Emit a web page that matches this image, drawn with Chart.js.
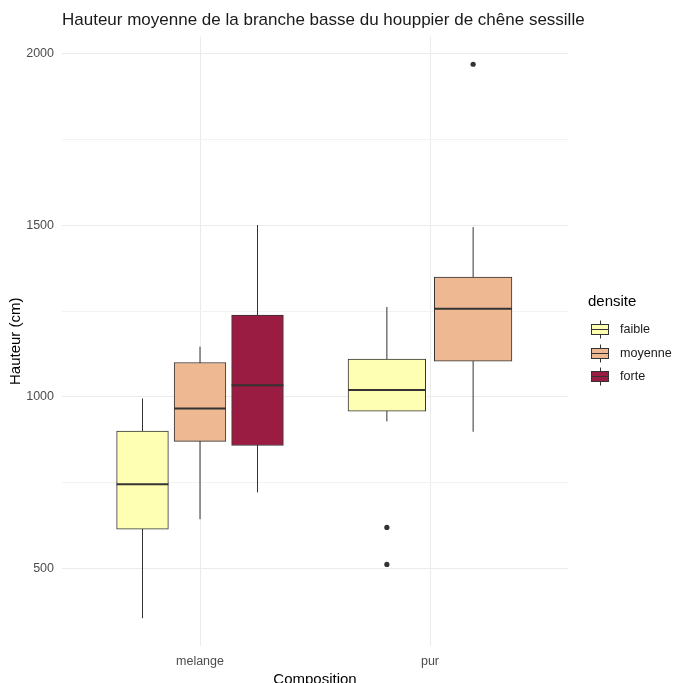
<!DOCTYPE html>
<html lang="fr">
<head>
<meta charset="utf-8">
<title>Hauteur moyenne de la branche basse du houppier de chêne sessille</title>
<script src="https://cdn.jsdelivr.net/npm/chart.js@4.4.1/dist/chart.umd.min.js"></script>
<style>
  html, body { margin: 0; padding: 0; background: #ffffff; overflow: hidden; }
  #wrap { position: relative; width: 673px; height: 690px; }
</style>
</head>
<body>
<div id="wrap"><canvas id="chart"></canvas></div>
<script>
// Categories and groups
const categories = ['melange', 'pur'];
const densites = ['faible', 'moyenne', 'forte'];
const densiteColors = ['#FFFFB4', '#EEB893', '#9A1C42'];

const chartTitle = 'Hauteur moyenne de la branche basse du houppier de chêne sessille';

// One entry per box (composition x densite), five-number summaries in cm
const boxComposition = ['melange', 'melange', 'melange', 'pur', 'pur'];
const boxDensite = ['faible', 'moyenne', 'forte', 'faible', 'moyenne'];
const whiskerLow = [354, 643, 721, 928, 898];
const q1 = [614, 870, 858, 958, 1104];
const median = [745, 966, 1034, 1020, 1257];
const q3 = [900, 1100, 1238, 1110, 1349];
const whiskerHigh = [995, 1146, 1501, 1262, 1495];

// Outliers: index of the box they belong to, and value
const outlierBox = [3, 3, 4];
const outlierValue = [619, 511, 1970];

// Y axis ticks (labelled every 500, minor grid every 250)
const yTicks = [500, 750, 1000, 1250, 1500, 1750, 2000];

const FONT = '"Liberation Sans", Arial, Helvetica, sans-serif';
Chart.defaults.font.family = FONT;

// Dodge boxes within each composition (total width 0.75, 10% padding)
const DODGE_WIDTH = 0.75, DODGE_PADDING = 0.1;
const boxCenter = [], boxWidth = [];
categories.forEach((cat, ci) => {
  const members = boxComposition.map((c, i) => (c === cat ? i : -1)).filter(i => i >= 0);
  const slot = DODGE_WIDTH / members.length;
  members.forEach((bi, k) => {
    boxCenter[bi] = ci + 1 - DODGE_WIDTH / 2 + slot * (k + 0.5);
    boxWidth[bi] = slot * (1 - DODGE_PADDING);
  });
});

function pxWidth(chart, w) {
  const s = chart.scales.x;
  return Math.abs(s.getPixelForValue(1 + w) - s.getPixelForValue(1));
}

const INK = '#333333';
const datasets = [];
boxComposition.forEach((comp, i) => {
  const color = densiteColors[densites.indexOf(boxDensite[i])];
  const c = boxCenter[i], w = boxWidth[i];
  // whisker
  datasets.push({
    type: 'line', order: 3,
    data: [{ x: c, y: whiskerLow[i] }, { x: c, y: whiskerHigh[i] }],
    borderColor: INK, borderWidth: 1, pointRadius: 0, fill: false
  });
  // box from Q1 to Q3
  datasets.push({
    type: 'bar', order: 2, grouped: false,
    data: [{ x: c, y: [q1[i], q3[i]] }],
    backgroundColor: color, borderColor: INK, borderWidth: 1, borderSkipped: false,
    barThickness: ctx => pxWidth(ctx.chart, w)
  });
  // median
  datasets.push({
    type: 'line', order: 1,
    data: [{ x: c - w / 2, y: median[i] }, { x: c + w / 2, y: median[i] }],
    borderColor: INK, borderWidth: 2, pointRadius: 0, fill: false
  });
});
datasets.push({
  type: 'scatter', order: 0,
  data: outlierValue.map((v, k) => ({ x: boxCenter[outlierBox[k]], y: v })),
  pointRadius: 2.6, backgroundColor: INK, borderWidth: 0
});

// Title aligned with the plot panel, and legend with boxplot glyphs on the right
const panelDecor = {
  id: 'panelDecor',
  afterDraw(chart) {
    const { ctx, chartArea } = chart;
    ctx.save();
    ctx.fillStyle = '#1a1a1a';
    ctx.font = '17px ' + FONT;
    ctx.textAlign = 'left';
    ctx.textBaseline = 'alphabetic';
    ctx.fillText(chartTitle, chartArea.left, 25);

    const left = chartArea.right + 20;
    const mid = (chartArea.top + chartArea.bottom) / 2;
    ctx.fillStyle = '#000000';
    ctx.font = '15px ' + FONT;
    ctx.fillText('densite', left, mid - 35);
    densites.forEach((d, i) => {
      const cy = Math.round(mid - 12 + i * 23.3) + 0.5;
      const kx = left + 3.5, kw = 17, kh = 10;
      const cx = Math.round(kx + kw / 2) + 0.5;
      ctx.strokeStyle = INK;
      ctx.lineWidth = 1;
      ctx.beginPath();
      ctx.moveTo(cx, cy - 9); ctx.lineTo(cx, cy + 9);
      ctx.stroke();
      ctx.fillStyle = densiteColors[i];
      ctx.fillRect(kx, cy - kh / 2, kw, kh);
      ctx.strokeRect(kx, cy - kh / 2, kw, kh);
      ctx.beginPath();
      ctx.moveTo(kx, cy); ctx.lineTo(kx + kw, cy);
      ctx.stroke();
      ctx.fillStyle = '#1a1a1a';
      ctx.font = '12.6px ' + FONT;
      ctx.textBaseline = 'middle';
      ctx.fillText(d, left + 32, cy);
    });
    ctx.restore();
  }
};

new Chart(document.getElementById('chart'), {
  type: 'bar',
  data: { datasets },
  options: {
    responsive: true,
    maintainAspectRatio: false,
    animation: false,
    events: [],
    layout: { padding: { left: 0, right: 105, top: 36.5, bottom: 0 } },
    plugins: {
      legend: { display: false },
      tooltip: { enabled: false },
      title: { display: false }
    },
    scales: {
      x: {
        type: 'linear',
        min: 0.4, max: 2.6,
        offset: false,
        grid: { color: '#ebebeb', drawTicks: false, offset: false },
        border: { display: false },
        afterBuildTicks: s => { s.ticks = categories.map((c, i) => ({ value: i + 1 })); },
        afterFit: s => { s.height = 44; },
        ticks: {
          autoSkip: false, padding: 8, color: '#4d4d4d', font: { size: 12.5 },
          callback: v => categories[Math.round(v) - 1] ?? ''
        },
        title: {
          display: true, text: 'Composition', color: '#000000',
          font: { size: 15 }, padding: { top: 0, bottom: 1.5 }
        }
      },
      y: {
        type: 'linear',
        min: 273, max: 2051,
        grid: {
          drawTicks: false,
          color: ctx => (ctx.tick && ctx.tick.value % 500 === 0 ? '#ebebeb' : '#f2f2f2')
        },
        border: { display: false },
        afterBuildTicks: s => { s.ticks = yTicks.map(v => ({ value: v })); },
        afterFit: s => { s.width = 62; },
        ticks: {
          padding: 8, color: '#4d4d4d', font: { size: 12.5 },
          callback: v => (v % 500 === 0 ? String(v) : '')
        },
        title: {
          display: true, text: 'Hauteur (cm)', color: '#000000',
          font: { size: 15 }, padding: { top: 7, bottom: 0 }
        }
      }
    }
  },
  plugins: [panelDecor]
});
</script>
</body>
</html>
